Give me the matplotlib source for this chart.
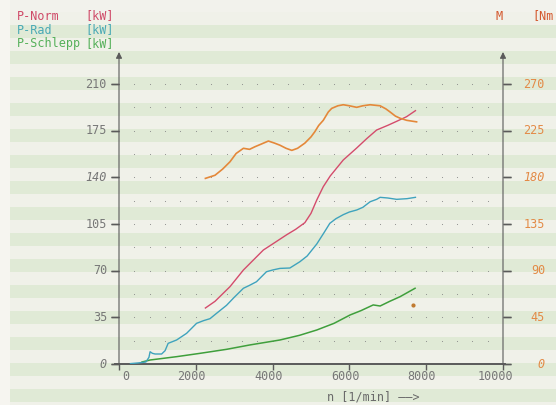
import matplotlib
matplotlib.use("Agg")
import matplotlib.pyplot as plt
from matplotlib.patches import Rectangle
import numpy as np

# ---------------- data ----------------
norm_rpm = [2250, 2500, 2890, 3240, 3500, 3760, 4000, 4370, 4600, 4840, 5000, 5150, 5320,
            5500, 5840, 6190, 6450, 6710, 7000, 7230, 7490, 7720]
norm_kw = [42, 47, 58, 70.5, 78, 85.5, 90, 97, 101, 106, 113, 123, 133,
           141, 153, 162, 169, 175.5, 179, 182, 185.5, 190]

torque_rpm = [2250, 2500, 2700, 2890, 3050, 3240, 3400, 3540, 3700, 3890, 4050, 4190, 4350,
              4500, 4650, 4840, 5000, 5100, 5200, 5320, 5450, 5540, 5700, 5840, 6000, 6190,
              6350, 6540, 6800, 6950, 7060, 7200, 7320, 7490, 7750]
torque_nm = [179, 182, 188, 195, 203, 208, 207, 209.5, 212, 215, 213, 211, 208,
             206, 208, 213, 219, 224, 230, 235, 243, 246.5, 249, 250, 249, 247.5,
             249, 250, 249, 246, 243, 239, 237, 235, 233.5]

rad_rpm = [300, 500, 700, 780, 810, 870, 940, 1110, 1200, 1280, 1500, 1760, 2020, 2200,
           2370, 2540, 2800, 3000, 3240, 3400, 3580, 3840, 4000, 4190, 4450, 4710, 4900,
           5150, 5350, 5490, 5650, 5840, 6000, 6190, 6350, 6540, 6710, 6800, 7000, 7230,
           7500, 7720]
rad_kw = [0.3, 0.8, 1.5, 5, 9.2, 8, 7.5, 7.5, 10, 15.5, 18, 23, 30.5, 32.5,
          34, 38, 44, 50, 56.8, 59, 61.7, 69.2, 70.5, 71.7, 72, 76.7, 81,
          90, 99, 105.5, 109, 112, 114, 115.5, 117.5, 121.7, 123.5, 125, 124.5, 123.5,
          124, 125]

schlepp_rpm = [600, 810, 1500, 2110, 2800, 3410, 4190, 4700, 5150, 5600, 6020, 6300,
               6620, 6800, 7050, 7320, 7710]
schlepp_kw = [1.5, 3, 5.5, 8, 11, 14.3, 18, 21.5, 25.5, 30.5, 36.8, 40,
              44.3, 43.5, 47, 50.5, 56.8]

stray_rpm = [7660]
stray_kw = [44]

kw_ticks = [0, 35, 70, 105, 140, 175, 210]
kw_labels = ["0", "35", "70", "105", "140", "175", "210"]
nm_ticks = [0, 45, 90, 135, 180, 225, 270]
nm_labels = ["0", "45", "90", "135", "180", "225", "270"]
rpm_ticks = [0, 2000, 4000, 6000, 8000, 10000]
rpm_labels = ["0", "2000", "4000", "6000", "8000", "10000"]

# ---------------- style ----------------
MONO = "DejaVu Sans Mono"
C_NORM = "#d44c6c"
C_RAD = "#3fa3bd"
C_SCHL = "#3f9f3c"
C_TORQ = "#e4883a"
C_TXT_NORM = "#cf4a68"
C_TXT_RAD = "#4aa9b5"
C_TXT_SCHL = "#55b05a"
C_RLAB = "#e38a46"
C_GRAY = "#777777"
C_AX = "#5a5a5a"

W, H = 556, 405
fig = plt.figure(figsize=(W / 100, H / 100), dpi=100)
fig.patch.set_facecolor("#f6f5f0")

# paper background stripes
bg = fig.add_axes([0, 0, 1, 1])
bg.set_xlim(0, W)
bg.set_ylim(H, 0)
bg.axis("off")
y = 11.5
k = 0
while y < H:
    col = "#f0f1e9" if k % 2 == 0 else "#e0ead6"
    bg.add_patch(Rectangle((10, y), W, 13, facecolor=col, edgecolor="none"))
    y += 13
    k += 1
bg.add_patch(Rectangle((10, 0), W, 11.5, facecolor="#f2f2ec", edgecolor="none"))

# main axes: x 0..10000 -> px 119..503, y 0..210 -> px 364..84
x0, x1 = 119, 503
ytop_px = 55
ymax = (364 - ytop_px) / 280 * 210
ax = fig.add_axes([x0 / W, 1 - 364 / H, (x1 - x0) / W, (364 - ytop_px) / H])
ax.patch.set_visible(False)
ax.set_xlim(0, 10000)
ax.set_ylim(0, ymax)
for s in ax.spines.values():
    s.set_visible(False)
ax.set_xticks([])
ax.set_yticks([])

ax2 = ax.twinx()
ax2.set_ylim(0, ymax * 270 / 210)
for s in ax2.spines.values():
    s.set_visible(False)
ax2.set_yticks([])

# dotted grid
gx = np.arange(400, 9601, 400)
gy = np.arange(17.5, 210.1, 17.5)
GX, GY = np.meshgrid(gx, gy)
ax.scatter(GX.ravel(), GY.ravel(), s=0.6, color="#8a8a8a", linewidths=0, zorder=1)

# axes lines with arrows
ax.plot([-100, 10050], [0, 0], color=C_AX, lw=1.4, clip_on=False, zorder=2)
ytip = (364 - 52) / 280 * 210
for xv in (0, 10000):
    ax.annotate("", xy=(xv, ytip), xytext=(xv, 0), annotation_clip=False,
                arrowprops=dict(arrowstyle="-|>", color=C_AX, lw=0.8,
                                mutation_scale=9, shrinkA=0, shrinkB=0))

# tick marks
for v in kw_ticks:
    ax.plot([0, 0], [v, v], marker=matplotlib.markers.TICKLEFT, ms=6, mew=1.0,
            color=C_AX, clip_on=False)
    ax.plot([10000, 10000], [v, v], marker=matplotlib.markers.TICKRIGHT, ms=6, mew=1.0,
            color=C_AX, clip_on=False)
for v in rpm_ticks:
    ax.plot([v], [0], marker=matplotlib.markers.TICKDOWN, ms=4, mew=1.0,
            color=C_AX, clip_on=False)

# tick labels
for v, s in zip(kw_ticks, kw_labels):
    st = "italic" if s in ("140", "0") else "normal"
    ax.annotate(s, xy=(0, v), xytext=(-12, 0), textcoords="offset pixels",
                ha="right", va="center", family=MONO, fontsize=8.5, color=C_GRAY,
                style=st, annotation_clip=False)
for v, s in zip(nm_ticks, nm_labels):
    st = "italic" if s in ("180", "0") else "normal"
    ax2.annotate(s, xy=(10000, v), xytext=(42, 0), textcoords="offset pixels",
                 ha="right", va="center", family=MONO, fontsize=8.5, color=C_RLAB,
                 style=st, annotation_clip=False)
for v, s in zip(rpm_ticks, rpm_labels):
    ax.annotate(s, xy=(v, 0), xytext=(10, -13), textcoords="offset pixels",
                ha="right", va="center", family=MONO, fontsize=8.5, color=C_GRAY,
                annotation_clip=False)

# curves
ax.plot(schlepp_rpm, schlepp_kw, color=C_SCHL, lw=1.1, zorder=3)
ax.plot(rad_rpm, rad_kw, color=C_RAD, lw=1.0, zorder=4)
ax.plot(norm_rpm, norm_kw, color=C_NORM, lw=1.0, zorder=4)
ax2.plot(torque_rpm, torque_nm, color=C_TORQ, lw=1.2, zorder=4)
ax.scatter(stray_rpm, stray_kw, s=4, color="#c07a30", zorder=4)

# header texts
def ftxt(x, y, s, c, **kw):
    fig.text(x / W, 1 - y / H, s, color=c, family=MONO, fontsize=8.5,
             ha=kw.pop("ha", "left"), va="center", **kw)

ftxt(17, 16, "P-Norm", C_TXT_NORM)
ftxt(85, 16, "[kW]", C_TXT_NORM)
ftxt(17, 30, "P-Rad", C_TXT_RAD)
ftxt(85, 30, "[kW]", C_TXT_RAD)
ftxt(17, 44, "P-Schlepp", C_TXT_SCHL)
ftxt(85, 44, "[kW]", C_TXT_SCHL)
ftxt(499, 16, "M", "#d4582e", ha="center")
ftxt(554, 16, "[Nm", "#d4582e", ha="right")
ftxt(327, 397, "n [1/min] \u2014\u2014>", "#6a6a6a")

fig.savefig("out.png", dpi=100, facecolor=fig.get_facecolor())
